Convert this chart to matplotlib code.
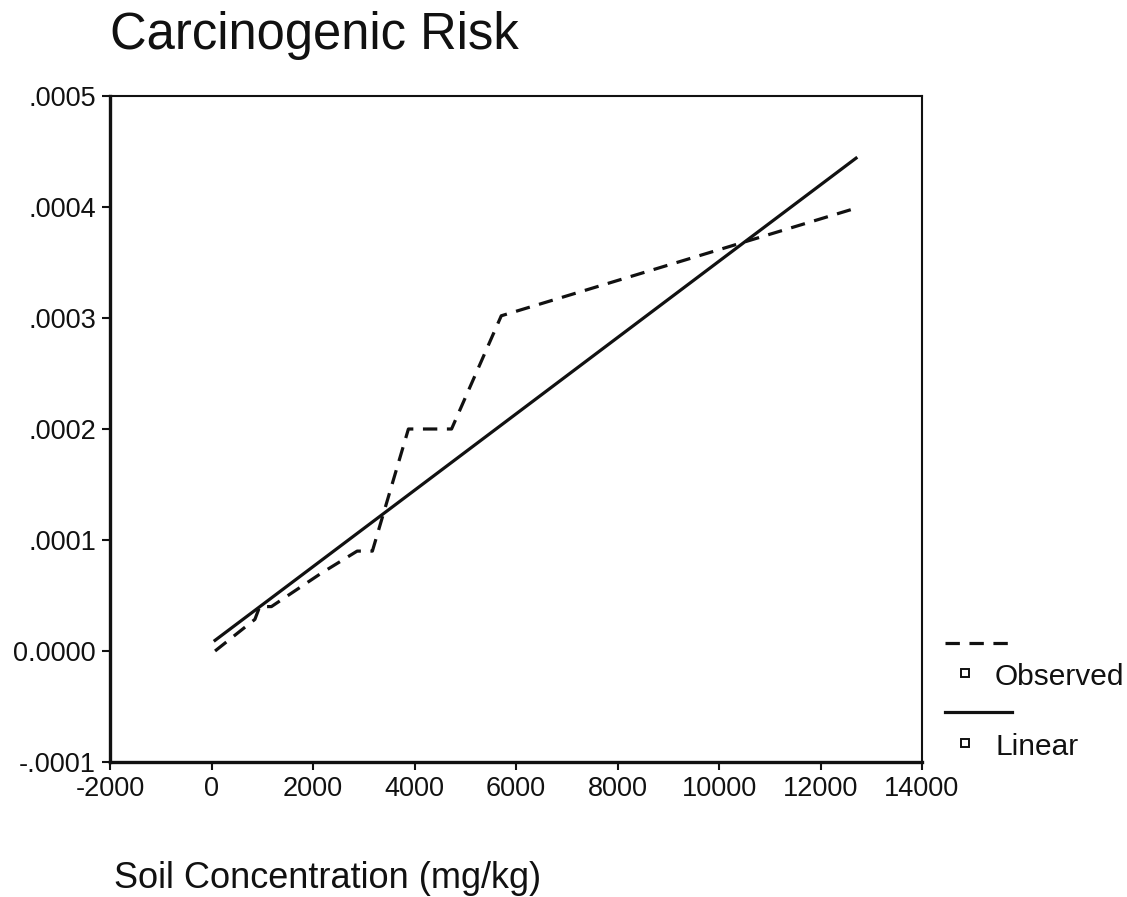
import matplotlib
matplotlib.use("Agg")
import matplotlib.pyplot as plt
from matplotlib.lines import Line2D

plt.rcParams["font.family"] = ["Liberation Sans", "DejaVu Sans"]
plt.rcParams["axes.unicode_minus"] = False

# Observed risk vs. soil concentration
obs_conc = [70, 855, 950, 1180, 2160, 2870, 3170, 3880, 4730, 5710, 12700]
obs_risk = [0.0, 0.0000285, 0.000040, 0.000040, 0.000070, 0.000090,
            0.000090, 0.000200, 0.000200, 0.000302, 0.000399]

# Linear model endpoints
lin_conc = [70, 12700]
lin_risk = [0.0000096, 0.000444]

x_ticks = [-2000, 0, 2000, 4000, 6000, 8000, 10000, 12000, 14000]
y_ticks = [-0.0001, 0.0, 0.0001, 0.0002, 0.0003, 0.0004, 0.0005]
y_labels = ["-.0001", "0.0000", ".0001", ".0002", ".0003", ".0004", ".0005"]

fig = plt.figure(figsize=(11.27, 8.97), dpi=100)
ax = fig.add_axes([110 / 1127, 1 - 762 / 897, (922 - 110) / 1127, (762 - 96) / 897])

dash = (4.5, 3.0)
ax.plot(obs_conc, obs_risk, color="#111111", lw=2.3, dashes=dash)
ax.plot(lin_conc, lin_risk, color="#111111", lw=2.3)

ax.set_xlim(-2000, 14000)
ax.set_ylim(-0.0001, 0.0005)
ax.set_xticks(x_ticks)
ax.set_yticks(y_ticks)
ax.set_yticklabels(y_labels)
ax.tick_params(direction="out", length=6, width=1.5, labelsize=19.5,
               colors="#111111", pad=4)

for side in ("left", "bottom"):
    ax.spines[side].set_linewidth(2.4)
for side in ("top", "right"):
    ax.spines[side].set_linewidth(1.5)
for sp in ax.spines.values():
    sp.set_color("#111111")

fig.text(110 / 1127, 1 - 49 / 897, "Carcinogenic Risk", fontsize=36.5,
         color="#111111", ha="left", va="baseline")
fig.text(114 / 1127, 1 - 888 / 897, "Soil Concentration (mg/kg)", fontsize=26,
         color="#111111", ha="left", va="baseline")

# Legend block to the right of the plot
def fx(px):
    return px / 1127

def fy(py):
    return 1 - py / 897

fig.add_artist(Line2D([fx(945), fx(1010)], [fy(643), fy(643)], color="#111111",
                      lw=2.3, dashes=dash))
fig.add_artist(Line2D([fx(945), fx(1012)], [fy(712), fy(712)], color="#111111",
                      lw=2.3))
for py, label in [(675, "Observed"), (745, "Linear")]:
    fig.add_artist(Line2D([fx(965)], [fy(py - 2)], marker="s", markersize=6,
                          markerfacecolor="white", markeredgecolor="#111111",
                          markeredgewidth=1.4, lw=0))
    fig.text(fx(995), fy(py + 2), label, fontsize=21.5, color="#111111",
             ha="left", va="center")

fig.savefig("out.png", dpi=100)
